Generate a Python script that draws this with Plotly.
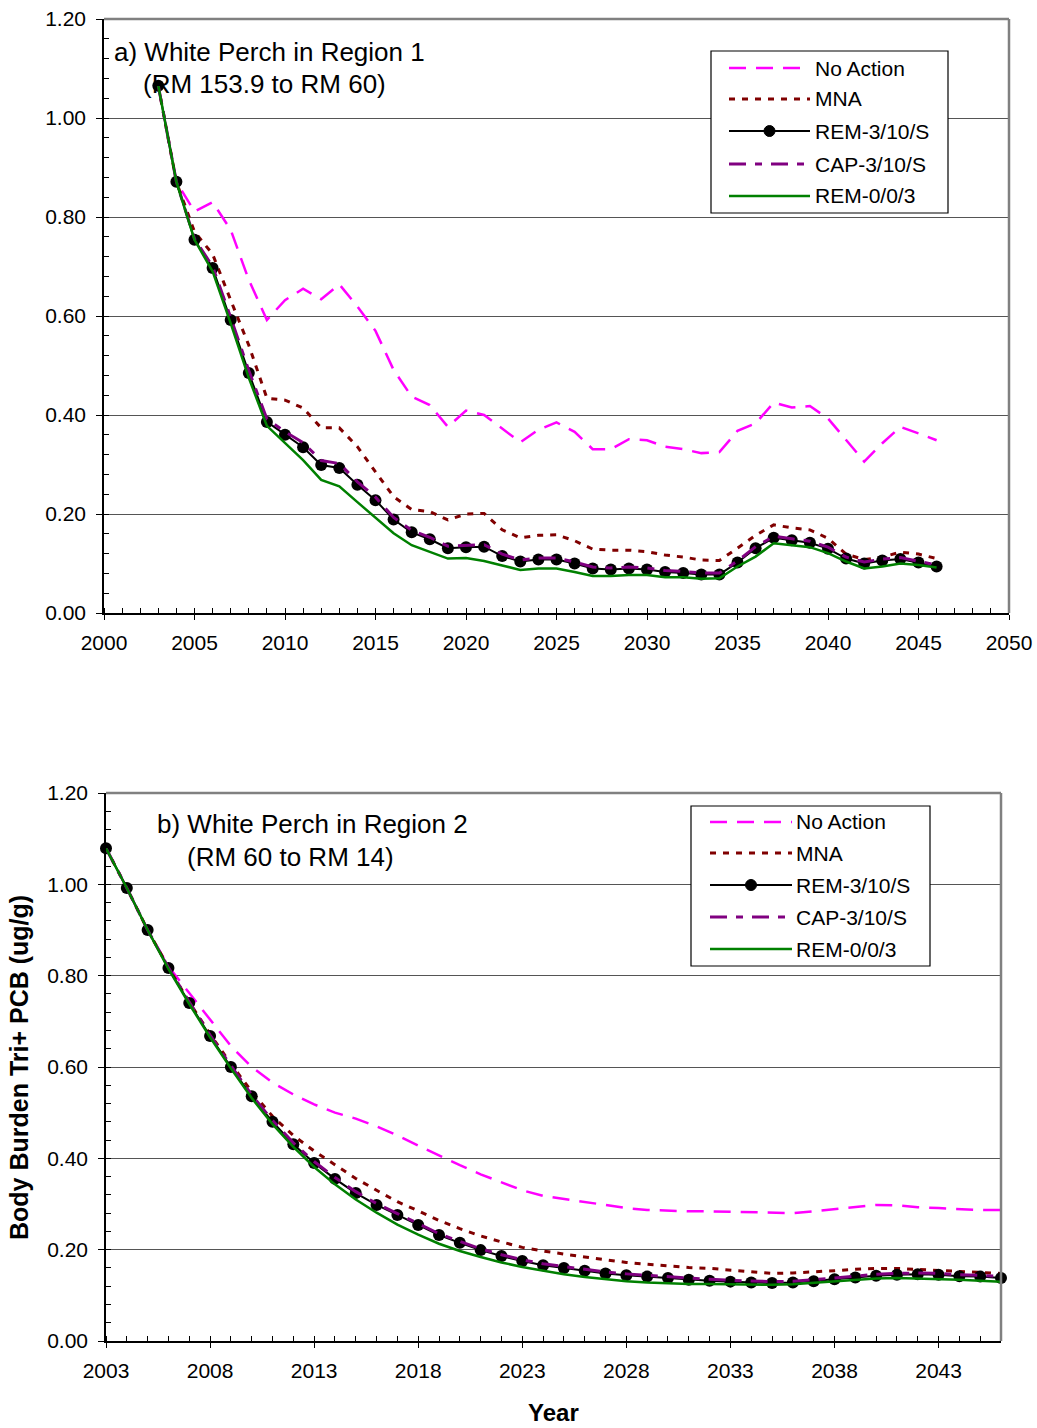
import plotly.graph_objects as go

W, H = 1037, 1428

years = list(range(2003, 2047))

# ---------- Region 1 (panel a) ----------
no_action_a = [1.065, 0.871, 0.811, 0.830, 0.774, 0.673, 0.592, 0.632, 0.655, 0.634, 0.664, 0.619,
               0.570, 0.491, 0.437, 0.420, 0.376, 0.409, 0.400, 0.373, 0.345, 0.370, 0.385, 0.366,
               0.331, 0.331, 0.351, 0.349, 0.336, 0.331, 0.323, 0.325, 0.368, 0.383, 0.425, 0.415,
               0.418, 0.393, 0.349, 0.306, 0.343, 0.376, 0.363, 0.349]
mna_a = [1.065, 0.871, 0.770, 0.725, 0.632, 0.541, 0.434, 0.430, 0.414, 0.374, 0.374, 0.336,
         0.285, 0.235, 0.209, 0.205, 0.188, 0.200, 0.201, 0.168, 0.152, 0.157, 0.158, 0.146,
         0.129, 0.127, 0.127, 0.124, 0.117, 0.113, 0.107, 0.106, 0.131, 0.157, 0.178, 0.172,
         0.168, 0.151, 0.119, 0.108, 0.113, 0.123, 0.119, 0.110]
rem_a = [1.065, 0.871, 0.754, 0.697, 0.592, 0.485, 0.386, 0.360, 0.335, 0.299, 0.293, 0.259,
         0.228, 0.189, 0.163, 0.149, 0.131, 0.133, 0.134, 0.115, 0.104, 0.108, 0.108, 0.100,
         0.090, 0.088, 0.090, 0.088, 0.083, 0.081, 0.078, 0.078, 0.102, 0.131, 0.152, 0.147,
         0.142, 0.130, 0.110, 0.100, 0.106, 0.109, 0.102, 0.094]
cap_a = [1.065, 0.871, 0.756, 0.700, 0.597, 0.490, 0.392, 0.366, 0.344, 0.308, 0.302, 0.265,
         0.234, 0.193, 0.167, 0.153, 0.135, 0.137, 0.138, 0.119, 0.107, 0.111, 0.111, 0.103,
         0.093, 0.091, 0.093, 0.091, 0.086, 0.084, 0.081, 0.081, 0.105, 0.134, 0.155, 0.150,
         0.145, 0.133, 0.113, 0.103, 0.109, 0.112, 0.105, 0.097]
rem003_a = [1.065, 0.871, 0.754, 0.690, 0.585, 0.475, 0.378, 0.343, 0.309, 0.269, 0.256, 0.224,
            0.192, 0.161, 0.137, 0.124, 0.110, 0.111, 0.105, 0.096, 0.087, 0.090, 0.090, 0.083,
            0.075, 0.075, 0.077, 0.077, 0.072, 0.072, 0.069, 0.070, 0.094, 0.114, 0.141, 0.137,
            0.133, 0.121, 0.104, 0.090, 0.094, 0.100, 0.097, 0.092]

# ---------- Region 2 (panel b) ----------
no_action_b = [1.079, 0.992, 0.900, 0.820, 0.762, 0.703, 0.646, 0.600, 0.566, 0.540, 0.518, 0.500,
               0.487, 0.470, 0.450, 0.428, 0.406, 0.385, 0.365, 0.348, 0.330, 0.318, 0.311, 0.305,
               0.298, 0.291, 0.287, 0.285, 0.284, 0.284, 0.283, 0.281, 0.280, 0.280, 0.284, 0.289,
               0.294, 0.298, 0.297, 0.293, 0.291, 0.289, 0.287, 0.287]
mna_b = [1.079, 0.992, 0.900, 0.818, 0.742, 0.672, 0.607, 0.546, 0.492, 0.450, 0.416, 0.385,
         0.356, 0.330, 0.305, 0.285, 0.264, 0.246, 0.230, 0.217, 0.205, 0.197, 0.190, 0.184,
         0.178, 0.172, 0.168, 0.164, 0.161, 0.159, 0.155, 0.152, 0.148, 0.149, 0.151, 0.154,
         0.157, 0.159, 0.159, 0.157, 0.155, 0.153, 0.150, 0.148]
rem_b = [1.079, 0.992, 0.900, 0.817, 0.740, 0.668, 0.600, 0.536, 0.480, 0.431, 0.390, 0.355,
         0.324, 0.298, 0.276, 0.254, 0.232, 0.215, 0.199, 0.186, 0.175, 0.166, 0.160, 0.154,
         0.148, 0.144, 0.141, 0.138, 0.134, 0.132, 0.130, 0.128, 0.127, 0.128, 0.131, 0.135,
         0.139, 0.143, 0.145, 0.146, 0.145, 0.142, 0.141, 0.138]
cap_b = [1.079, 0.992, 0.900, 0.818, 0.742, 0.670, 0.603, 0.539, 0.483, 0.434, 0.393, 0.358,
         0.327, 0.301, 0.279, 0.257, 0.235, 0.218, 0.202, 0.189, 0.178, 0.169, 0.163, 0.157,
         0.151, 0.147, 0.144, 0.141, 0.137, 0.135, 0.133, 0.131, 0.130, 0.131, 0.134, 0.138,
         0.142, 0.146, 0.148, 0.149, 0.148, 0.145, 0.144, 0.141]
rem003_b = [1.079, 0.992, 0.900, 0.815, 0.738, 0.665, 0.597, 0.532, 0.475, 0.425, 0.381, 0.343,
            0.310, 0.281, 0.255, 0.233, 0.213, 0.197, 0.184, 0.172, 0.162, 0.154, 0.146, 0.140,
            0.135, 0.131, 0.128, 0.126, 0.125, 0.125, 0.124, 0.123, 0.123, 0.124, 0.127, 0.130,
            0.134, 0.137, 0.138, 0.137, 0.136, 0.134, 0.132, 0.130]

series_names = ["No Action", "MNA", "REM-3/10/S", "CAP-3/10/S", "REM-0/0/3"]

FONT = "Liberation Sans, Arial, sans-serif"

styles = {
    "No Action": dict(color="#FF00FF", width=2.5, dash="17px,10px"),
    "MNA": dict(color="#800000", width=3, dash="6px,7px"),
    "REM-3/10/S": dict(color="#000000", width=2, dash="solid"),
    "CAP-3/10/S": dict(color="#800080", width=3, dash="17px,9px,7px,9px"),
    "REM-0/0/3": dict(color="#008000", width=2.5, dash="solid"),
}

fig = go.Figure()

panels = [
    ("x", "y", [no_action_a, mna_a, rem_a, cap_a, rem003_a]),
    ("x2", "y2", [no_action_b, mna_b, rem_b, cap_b, rem003_b]),
]
for xa, ya, data in panels:
    for name, vals in zip(series_names, data):
        st = styles[name]
        kw = dict(mode="lines")
        if name == "REM-3/10/S":
            kw = dict(mode="lines+markers", marker=dict(size=12, color="#000000"))
        fig.add_trace(go.Scatter(x=years, y=vals, name=name, xaxis=xa, yaxis=ya,
                                 line=dict(color=st["color"], width=st["width"], dash=st["dash"]),
                                 cliponaxis=False, showlegend=False, **kw))


def px(x):
    return x / W


def py(y):
    return 1 - y / H


common_y = dict(range=[0, 1.2], dtick=0.2, tick0=0, tickformat=".2f", showgrid=True,
                gridcolor="#555555", gridwidth=1, showline=True, linecolor="#000000", linewidth=1.5,
                ticks="outside", ticklen=6, tickcolor="#000000", tickwidth=1.2,
                tickfont=dict(family=FONT, size=21, color="#000000"), ticklabelstandoff=6,
                minor=dict(dtick=0.04, tick0=0, ticks="inside", ticklen=5, tickcolor="#000000",
                           showgrid=False), zeroline=False, fixedrange=True, automargin=False)
common_x = dict(dtick=5, showgrid=False, showline=True, linecolor="#000000", linewidth=1.5,
                ticks="outside", ticklen=5, tickcolor="#000000", tickwidth=1.2,
                tickfont=dict(family=FONT, size=21, color="#000000"), ticklabelstandoff=5,
                minor=dict(dtick=1, ticks="inside", ticklen=5, tickcolor="#000000", showgrid=False),
                zeroline=False, fixedrange=True, automargin=False)

fig.update_layout(
    width=W, height=H,
    margin=dict(l=0, r=0, t=0, b=0, pad=0, autoexpand=False),
    paper_bgcolor="white", plot_bgcolor="white",
    font=dict(family=FONT, color="#000000"),
    xaxis=dict(common_x, domain=[px(104), px(1009)], range=[2000, 2050], tick0=2000,
               minor=dict(common_x["minor"], tick0=2000), anchor="y"),
    yaxis=dict(common_y, domain=[py(613), py(19)], anchor="x"),
    xaxis2=dict(common_x, domain=[px(106), px(1001)], range=[2003, 2046], tick0=2003,
                minor=dict(common_x["minor"], tick0=2003), anchor="y2"),
    yaxis2=dict(common_y, domain=[py(1341), py(793)], anchor="x2"),
)

shapes = []
# gray top/right frame borders
for xa in ["x", "x2"]:
    ya = "y" if xa == "x" else "y2"
    shapes.append(dict(type="line", xref=f"{xa} domain", yref=f"{ya} domain", x0=0, x1=1, y0=1, y1=1,
                       line=dict(color="#808080", width=2.5)))
    shapes.append(dict(type="line", xref=f"{xa} domain", yref=f"{ya} domain", x0=1, x1=1, y0=0, y1=1,
                       line=dict(color="#808080", width=2.5)))

annotations = []


def add_legend(box, rows, line_x0, line_x1, text_x):
    x0, y0, x1, y1 = box
    shapes.append(dict(type="rect", xref="paper", yref="paper", x0=px(x0), x1=px(x1),
                       y0=py(y1), y1=py(y0), line=dict(color="#000000", width=1.2),
                       fillcolor="white", layer="above"))
    for name, ry in zip(series_names, rows):
        st = styles[name]
        shapes.append(dict(type="line", xref="paper", yref="paper", x0=px(line_x0), x1=px(line_x1),
                           y0=py(ry), y1=py(ry),
                           line=dict(color=st["color"], width=st["width"], dash=st["dash"]),
                           layer="above"))
        if name == "REM-3/10/S":
            cx = (line_x0 + line_x1) / 2
            r = 5.5
            shapes.append(dict(type="circle", xref="paper", yref="paper", x0=px(cx - r), x1=px(cx + r),
                               y0=py(ry + r), y1=py(ry - r), fillcolor="#000000",
                               line=dict(color="#000000", width=1), layer="above"))
        annotations.append(dict(x=px(text_x), y=py(ry), xref="paper", yref="paper", text=name,
                                showarrow=False, xanchor="left", yanchor="middle",
                                font=dict(family=FONT, size=21, color="#000000")))


add_legend((711, 51, 948, 213), [68, 99, 131, 164, 196], 729, 810, 813)
add_legend((691, 806, 930, 966), [822, 853, 885, 917, 949], 710, 792, 794)

titles = [
    ("a) White Perch in Region 1", 112, 52),
    ("(RM 153.9 to RM 60)", 141, 84),
    ("b) White Perch in Region 2", 155, 824),
    ("(RM 60 to RM 14)", 185, 857),
]
for t, x, y in titles:
    annotations.append(dict(x=px(x), y=py(y), xref="paper", yref="paper", text=t, showarrow=False,
                            xanchor="left", yanchor="middle",
                            font=dict(family=FONT, size=26, color="#000000")))

annotations.append(dict(x=px(19), y=py(1068), xref="paper", yref="paper",
                        text="<b>Body Burden Tri+ PCB (ug/g)</b>", textangle=-90, showarrow=False,
                        xanchor="center", yanchor="middle",
                        font=dict(family=FONT, size=25, color="#000000")))
annotations.append(dict(x=px(553), y=py(1412), xref="paper", yref="paper", text="<b>Year</b>",
                        showarrow=False, xanchor="center", yanchor="middle",
                        font=dict(family=FONT, size=24, color="#000000")))

fig.update_layout(shapes=shapes, annotations=annotations)

fig.write_html("out.html")
